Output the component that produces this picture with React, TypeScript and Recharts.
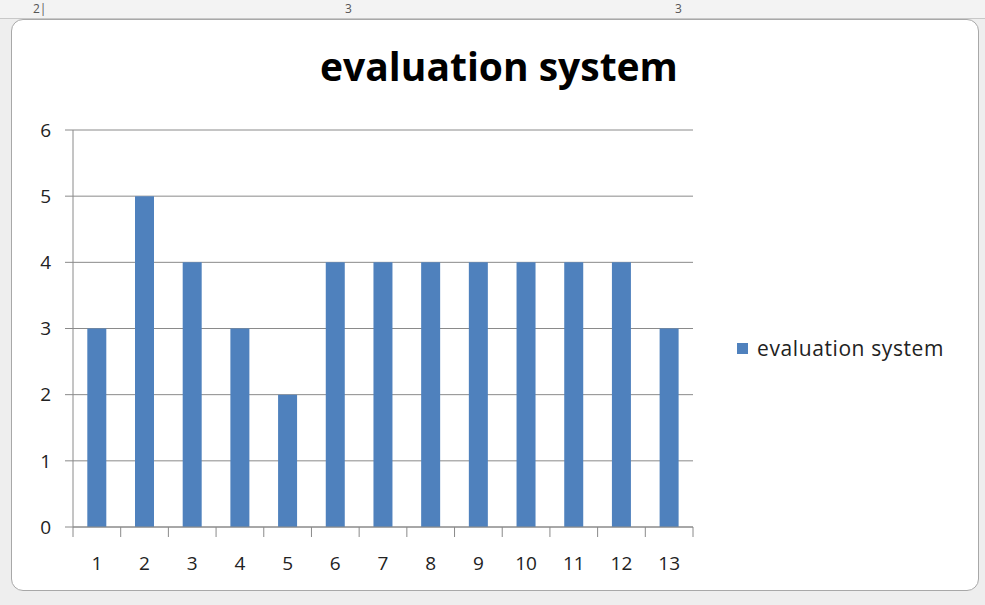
import { BarChart, Bar, XAxis, YAxis, CartesianGrid } from 'recharts';

const categories = ['1', '2', '3', '4', '5', '6', '7', '8', '9', '10', '11', '12', '13'];
const scores = [3, 5, 4, 3, 2, 4, 4, 4, 4, 4, 4, 4, 3];
const yTicks = [0, 1, 2, 3, 4, 5, 6];
const seriesName = 'evaluation system';

const data = categories.map((c, i) => ({ name: c, value: scores[i] }));

const W = 985;
const H = 605;
const PLOT_LEFT = 73;
const PLOT_RIGHT = 693;
const BAND = (PLOT_RIGHT - PLOT_LEFT) / categories.length;
const BLUE = '#4f81bd';
const GRID = '#8a8a8a';
const FONT = '"Open Sans", "DejaVu Sans", sans-serif';

// Excel puts the category ticks between bars, not under them
const CategoryTick = ({ x, y, payload, index }: any) => (
  <g>
    <line x1={x - BAND / 2} x2={x - BAND / 2} y1={y - 8} y2={y + 2} stroke={GRID} />
    {index === categories.length - 1 && (
      <line x1={x + BAND / 2} x2={x + BAND / 2} y1={y - 8} y2={y + 2} stroke={GRID} />
    )}
    <text x={x} y={y + 35} textAnchor="middle" fontSize={19} fill="#222" fontFamily={FONT}>
      {payload.value}
    </text>
  </g>
);

export default function App() {
  return (
    <div style={{ position: 'fixed', left: 0, top: 0, width: W, height: H, background: '#eeeeee', overflow: 'hidden' }}>
      {/* sheet strip at top */}
      <div style={{ position: 'absolute', left: 0, top: 0, width: W, height: 18, background: '#f3f3f3', borderBottom: '1px solid #c8c8c8' }} />
      <div style={{ position: 'absolute', left: 33, top: 0, fontSize: 12, color: '#555', fontFamily: FONT }}>2|</div>
      <div style={{ position: 'absolute', left: 345, top: 0, fontSize: 12, color: '#555', fontFamily: FONT }}>3</div>
      <div style={{ position: 'absolute', left: 675, top: 0, fontSize: 12, color: '#555', fontFamily: FONT }}>3</div>
      {/* chart panel */}
      <div
        style={{
          position: 'absolute',
          left: 11,
          top: 19,
          width: 968,
          height: 572,
          background: '#fff',
          border: '1px solid #a8a8a8',
          borderRadius: 12,
          boxSizing: 'border-box',
        }}
      />
      <div
        style={{
          position: 'absolute',
          left: 318,
          top: 40,
          width: 362,
          textAlign: 'center',
          fontFamily: FONT,
          fontWeight: 'bold',
          fontSize: 39,
          lineHeight: '52px',
          color: '#000',
          whiteSpace: 'nowrap',
        }}
      >
        {seriesName}
      </div>
      <div style={{ position: 'absolute', left: 0, top: 0 }}>
        <BarChart
          width={W}
          height={H}
          data={data}
          margin={{ top: 130, right: W - PLOT_RIGHT, left: 0, bottom: 28 }}
          barCategoryGap="30%"
        >
          <CartesianGrid vertical={false} stroke={GRID} />
          <XAxis
            dataKey="name"
            height={50}
            tickLine={false}
            axisLine={{ stroke: GRID }}
            tick={<CategoryTick />}
            interval={0}
          />
          <YAxis
            width={PLOT_LEFT}
            domain={[0, 6]}
            ticks={yTicks}
            tickSize={8}
            tickMargin={14}
            tickLine={{ stroke: GRID }}
            axisLine={{ stroke: GRID }}
            tick={{ fontSize: 19, fill: '#222', fontFamily: FONT }}
          />
          <Bar dataKey="value" name={seriesName} fill={BLUE} isAnimationActive={false} />
        </BarChart>
      </div>
      {/* legend */}
      <div
        style={{
          position: 'absolute',
          left: 737,
          top: 334,
          display: 'flex',
          alignItems: 'center',
          fontFamily: FONT,
          fontSize: 21,
          letterSpacing: 0.6,
          color: '#222',
          whiteSpace: 'nowrap',
        }}
      >
        <span style={{ width: 11, height: 11, background: BLUE, display: 'inline-block', marginRight: 9 }} />
        {seriesName}
      </div>
    </div>
  );
}
